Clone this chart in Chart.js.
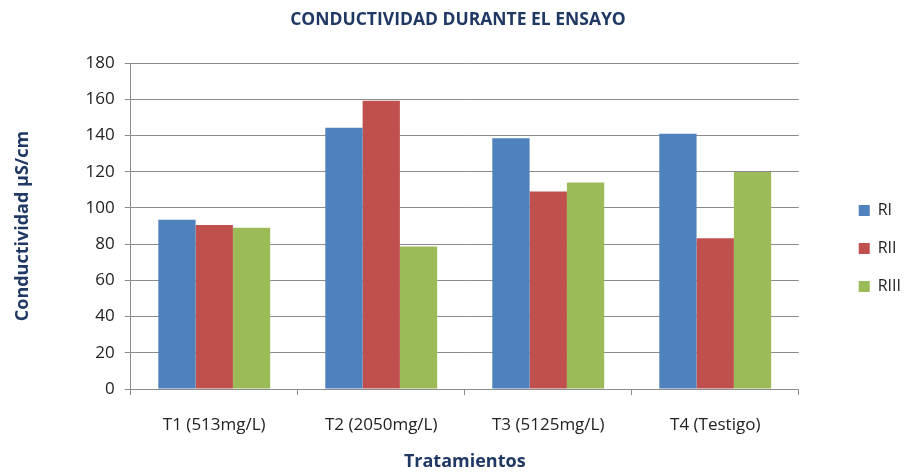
<!DOCTYPE html>
<html>
<head>
<meta charset="utf-8">
<script src="https://cdn.jsdelivr.net/npm/chart.js@4"></script>
<style>
  html, body { margin: 0; padding: 0; background: #fff; }
  #wrap { width: 904px; height: 473px; }
</style>
</head>
<body>
<div id="wrap"><canvas id="chart" width="904" height="473"></canvas></div>
<script>
var categories = ["T1 (513mg/L)", "T2 (2050mg/L)", "T3 (5125mg/L)", "T4 (Testigo)"];
var seriesNames = ["RI", "RII", "RIII"];
var valuesRI = [93.4, 144.2, 138.5, 140.9];
var valuesRII = [90.6, 159.1, 109.1, 83.3];
var valuesRIII = [89.0, 78.7, 114.0, 119.8];
var yTicks = [0, 20, 40, 60, 80, 100, 120, 140, 160, 180];

var navy = "#1F3864";
var fontFam = "'Open Sans', sans-serif";

// widen the gap between plot and legend, then slide the legend back right
var legendGap = {
    id: "legendGap",
    beforeUpdate: function (chart) {
        var lg = chart.legend;
        if (lg && !lg._gapPatched) {
            var fit = lg.fit;
            lg.fit = function () {
                fit.call(this);
                this.width += 31;
            };
            lg._gapPatched = true;
        }
    },
    afterLayout: function (chart) {
        var lg = chart.legend;
        lg.left += 38;
        lg.right += 38;
        lg.top += 11;
        lg.bottom += 11;
    }
};

new Chart(document.getElementById("chart"), {
    type: "bar",
    data: {
        labels: categories,
        datasets: [
            { label: seriesNames[0], data: valuesRI, backgroundColor: "#4F81BD" },
            { label: seriesNames[1], data: valuesRII, backgroundColor: "#C0504D" },
            { label: seriesNames[2], data: valuesRIII, backgroundColor: "#9BBB59" }
        ]
    },
    plugins: [legendGap],
    options: {
        responsive: false,
        animation: false,
        categoryPercentage: 0.67,
        barPercentage: 1.0,
        layout: { padding: { left: 12, right: 0, top: 2, bottom: 0 } },
        plugins: {
            title: {
                display: true,
                text: "CONDUCTIVIDAD DURANTE EL ENSAYO",
                color: navy,
                font: { family: fontFam, size: 17.5, weight: "bold" },
                padding: { top: 8, bottom: 32 }
            },
            legend: {
                position: "right",
                align: "center",
                labels: {
                    boxWidth: 11,
                    boxHeight: 11,
                    padding: 22,
                    color: "#222",
                    font: { family: fontFam, size: 16 }
                }
            },
            tooltip: { enabled: false }
        },
        scales: {
            x: {
                grid: {
                    display: true,
                    drawOnChartArea: false,
                    drawTicks: true,
                    tickLength: 6,
                    offset: true,
                    color: "#8C8C8C"
                },
                border: { color: "#8C8C8C" },
                ticks: {
                    color: "#222",
                    padding: 20,
                    font: { family: fontFam, size: 17 }
                },
                title: {
                    display: true,
                    text: "Tratamientos",
                    color: navy,
                    font: { family: fontFam, size: 18, weight: "bold" },
                    padding: { top: -4, bottom: 0 }
                }
            },
            y: {
                min: 0,
                max: 180,
                afterBuildTicks: function (axis) {
                    axis.ticks = yTicks.map(function (v) { return { value: v }; });
                },
                grid: {
                    color: "#8C8C8C",
                    tickLength: 6
                },
                border: { color: "#8C8C8C" },
                ticks: {
                    color: "#222",
                    padding: 10,
                    font: { family: fontFam, size: 17 }
                },
                title: {
                    display: true,
                    text: "Conductividad µS/cm",
                    color: navy,
                    font: { family: fontFam, size: 18, weight: "bold" },
                    padding: { top: 0, bottom: 42 }
                }
            }
        }
    }
});
</script>
</body>
</html>
